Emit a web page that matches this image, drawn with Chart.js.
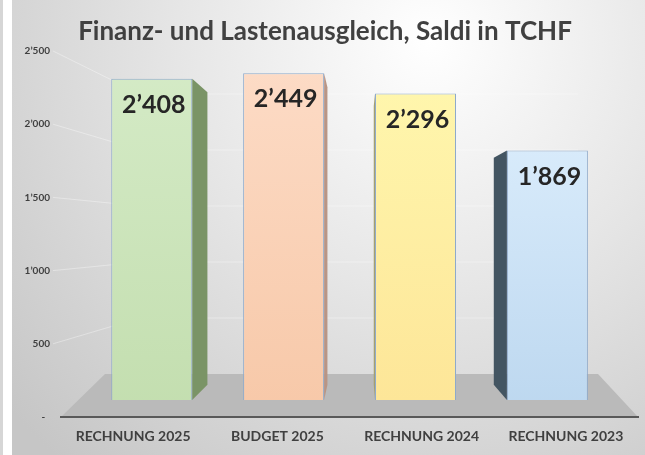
<!DOCTYPE html>
<html><head><meta charset="utf-8">
<script src="https://cdn.jsdelivr.net/npm/chart.js@4/dist/chart.umd.min.js"></script>
<style>html,body{margin:0;padding:0;background:#fff;}#wrap{width:645px;height:455px;position:relative;}</style>
</head><body><div id="wrap"><canvas id="c" width="645" height="455"></canvas></div>
<script>
// ---- data ----
const categories = ['RECHNUNG 2025', 'BUDGET 2025', 'RECHNUNG 2024', 'RECHNUNG 2023'];
const values = [2408, 2449, 2296, 1869];
const tickValues = [0, 500, 1000, 1500, 2000, 2500];
const titleText = 'Finanz- und Lastenausgleich, Saldi in TCHF';

// ---- styles ----
const frontTop = ['#d5ebc7', '#fddcc7', '#fff8af', '#e2f2ff'];
const frontBottom = ['#c3deaf', '#f7c8a8', '#fde597', '#bcd7ef'];
const sideColors = ['#7a9466', '#b99585', '#a5a070', '#435562'];
const FONT = 'Lato';

function fmt(v) {
  if (v === 0) return '-  ';
  return String(v).replace(/\B(?=(\d{3})+(?!\d))/g, '\u2019');
}

const deco = {
  id: 'deco',
  beforeDraw(chart) {
    const {ctx, chartArea: a, width, height} = chart;
    ctx.save();
    ctx.fillStyle = '#d6d6d6'; ctx.fillRect(0, 0, 3, height);
    ctx.fillStyle = '#ffffff'; ctx.fillRect(3, 0, 9, height);
    const g = ctx.createRadialGradient(430, 40, 0, 430, 40, 560);
    g.addColorStop(0, '#ffffff');
    g.addColorStop(0.45, '#e6e6e6');
    g.addColorStop(1, '#c6c6c6');
    ctx.fillStyle = g; ctx.fillRect(12, 0, width - 12, height);
    // back wall gridlines
    const yt = chart.scales.yt;
    const floorBack = a.bottom - 43;
    const wallTop = a.top + 43;
    const wallL = a.left + 79, wallR = a.right - 60;
    ctx.strokeStyle = 'rgba(255,255,255,0.35)'; ctx.lineWidth = 1;
    tickValues.forEach(v => {
      if (!v) return;
      const y0 = yt.getPixelForValue(v);
      const yw = floorBack - (floorBack - wallTop) * v / tickValues[tickValues.length - 1];
      ctx.beginPath(); ctx.moveTo(a.left - 8, y0); ctx.lineTo(wallL, yw); ctx.lineTo(wallR, yw); ctx.stroke();
    });
    // floor
    ctx.fillStyle = '#bababa';
    ctx.beginPath();
    ctx.moveTo(a.left, a.bottom);
    ctx.lineTo(a.left + 44, floorBack);
    ctx.lineTo(a.right - 40, floorBack);
    ctx.lineTo(a.right, a.bottom);
    ctx.closePath(); ctx.fill();
    ctx.restore();
  },
  beforeDatasetsDraw(chart) {
    const {ctx, chartArea: a} = chart;
    const vp = {x: a.left + 0.52 * (a.right - a.left), y: a.top + 180};
    const f = 0.09;
    const meta = chart.getDatasetMeta(0);
    ctx.save();
    meta.data.forEach((bar, i) => {
      const {x, y, base, width} = bar.getProps(['x', 'y', 'base', 'width'], true);
      const left = x - width / 2, right = x + width / 2;
      const edge = right < vp.x ? right : left;
      const bx = edge + (vp.x - edge) * f;
      const byT = y + (vp.y - y) * f;
      const byB = base + (vp.y - base) * f;
      ctx.fillStyle = sideColors[i];
      ctx.beginPath();
      ctx.moveTo(edge, y); ctx.lineTo(bx, byT); ctx.lineTo(bx, byB); ctx.lineTo(edge, base);
      ctx.closePath(); ctx.fill();
    });
    ctx.restore();
  },
  afterDatasetsDraw(chart) {
    const {ctx} = chart;
    const meta = chart.getDatasetMeta(0);
    ctx.save();
    ctx.font = 'bold 25px ' + FONT;
    ctx.fillStyle = '#262626';
    ctx.textAlign = 'center';
    ctx.textBaseline = 'middle';
    meta.data.forEach((bar, i) => {
      const {x, y} = bar.getProps(['x', 'y'], true);
      ctx.fillText(fmt(values[i]), x + 2, y + 26);
    });
    ctx.restore();
  }
};

new Chart(document.getElementById('c'), {
  type: 'bar',
  data: {
    datasets: [{
      data: values.map((v, i) => ({x: i, y: v})),
      xAxisID: 'x', yAxisID: 'y',
      backgroundColor: (c) => {
        const i = c.dataIndex;
        const a = c.chart.chartArea;
        if (!a || i === undefined) return frontBottom[i || 0];
        const g = c.chart.ctx.createLinearGradient(0, a.top, 0, a.bottom);
        g.addColorStop(0, frontTop[i]);
        g.addColorStop(1, frontBottom[i]);
        return g;
      },
      borderColor: '#8eaacb',
      borderWidth: 1,
      categoryPercentage: 1,
      barPercentage: 0.614
    }]
  },
  options: {
    responsive: false, animation: false, devicePixelRatio: 1,
    layout: {padding: {left: 12, right: 7, top: 0, bottom: 0}},
    plugins: {
      legend: {display: false}, tooltip: {enabled: false},
      title: {display: true, text: titleText, color: '#404040',
        font: {family: FONT, size: 26, weight: 'bold', lineHeight: 1.2},
        padding: {top: 16, bottom: 3.8}}
    },
    scales: {
      x: {type: 'linear', display: false, min: -0.688, max: 3.687, offset: false,
        ticks: {stepSize: 1, includeBounds: false}},
      y: {type: 'linear', display: false, min: -127, max: 2615},
      xl: {type: 'category', labels: categories, position: 'bottom', offset: true,
        grid: {display: false, drawTicks: false},
        border: {display: true, color: '#595959', width: 2},
        ticks: {color: '#404040', font: {family: FONT, size: 14, weight: 'bold'}, padding: 11, maxRotation: 0, autoSkip: false},
        afterFit(s) { s.height = 38; }},
      yt: {type: 'linear', position: 'left', min: 0, max: 2500,
        ticks: {stepSize: 500, callback: v => fmt(v), color: '#404040', font: {family: FONT, size: 10, weight: 'bold'}, padding: 11},
        grid: {display: false, drawTicks: false}, border: {display: false},
        afterFit(s) { s.width = 49; }}
    }
  },
  plugins: [deco]
});
</script></body></html>
